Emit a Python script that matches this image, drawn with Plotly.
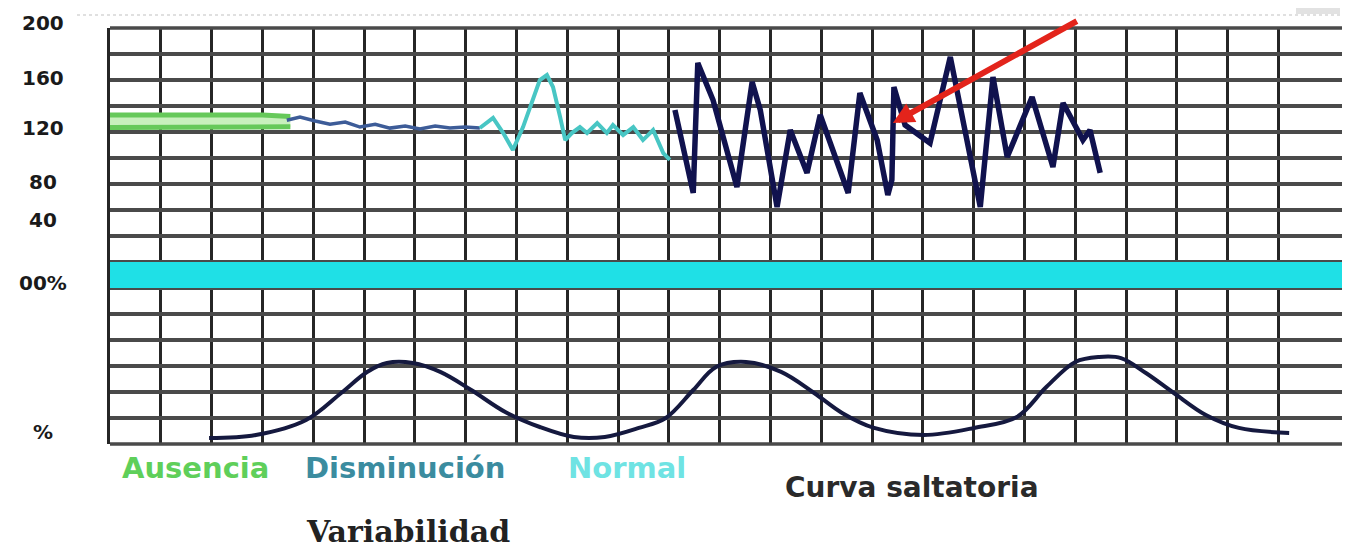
import plotly.graph_objects as go

# ---------------- data ----------------
# x: chart columns (one grid column per unit); y: fetal heart rate (bpm)
green_x = [0.0, 1.0, 2.0, 3.0, 3.55]
green_hi = [133, 133, 133, 133, 132]
green_lo = [123.5, 123.5, 123.5, 123.5, 124]

blue_x = [3.48, 3.74, 4.04, 4.33, 4.63, 4.92, 5.22, 5.51, 5.81, 6.10, 6.40, 6.69, 6.99, 7.28]
blue_y = [129, 131.5, 128.5, 126, 127.7, 123.8, 126, 123, 124.6, 122.3, 124.6, 123, 123.8, 123]

teal_x = [7.28, 7.54, 7.74, 7.93, 8.13, 8.33, 8.46, 8.60, 8.72, 8.86, 8.96, 9.09, 9.25, 9.39,
          9.59, 9.78, 9.90, 10.10, 10.30, 10.49, 10.69, 10.89, 11.02]
teal_y = [123.1, 130.8, 119.2, 106.2, 123.8, 144.6, 160.0, 163.8, 154.6, 131.5, 113.8, 119.2,
          123.8, 119.2, 126.9, 119.2, 125.4, 117.7, 123.8, 113.8, 121.5, 103.8, 98.5]

navy_x = [11.12, 11.48, 11.57, 11.87, 12.34, 12.64, 12.80, 13.13, 13.39, 13.72, 13.98, 14.53,
          14.76, 15.10, 15.31, 15.39, 15.43, 15.65, 16.14, 16.54, 17.13, 17.38, 17.66, 18.15,
          18.56, 18.76, 19.15, 19.29, 19.49]
navy_y = [136.9, 73.1, 173.1, 144.6, 77.7, 158.5, 136.9, 62.3, 121.5, 88.5, 133.1, 73.1,
          150.0, 113.8, 71.5, 83.1, 154.6, 125.4, 111.5, 177.7, 62.3, 162.3, 100.8, 146.9,
          93.1, 142.3, 113.8, 121.5, 88.5]

# uterine activity (%)
toco_x = [1.95, 2.87, 3.86, 4.55, 5.06, 5.45, 5.96, 6.50, 7.11, 7.78, 8.46, 9.13, 9.74, 10.41,
          10.94, 11.48, 11.93, 12.52, 13.21, 13.86, 14.41, 15.04, 16.02, 17.01, 17.85, 18.43,
          19.0, 19.47, 19.90, 20.39, 20.94, 21.57, 22.22, 23.21]
toco_y = [3.8, 5.8, 15.4, 32.7, 46.2, 51.9, 51.9, 46.2, 34.6, 20.5, 10.9, 4.5, 4.5, 10.3,
          16.7, 34.6, 49.4, 52.6, 46.2, 32.7, 19.9, 10.3, 5.8, 10.3, 17.3, 36.5, 52.6, 55.8,
          55.1, 45.5, 32.7, 18.6, 10.3, 7.1]

tick_labels = ["200", "160", "120", "80", "40", "00%", "%"]
tick_pos = [203.8, 161.5, 123.0, 81.5, 52.3, 4.0, -110.8]

column_lines = list(range(0, 24))

arrow_tail = (19.06, 206.0)
arrow_head = (15.41, 127.0)

legend_labels = ["Ausencia", "Disminución", "Normal"]
legend_colors = ["#5fcf5a", "#3b8c9f", "#6fe3e3"]
subtitle = "Curva saltatoria"
title_text = "Variabilidad"

# ---------------- layout geometry ----------------
OFF = 8                       # page body margin
W, H = 1344, 541
ML, MR, MT, MB = 102, 10, 20, 105
PW, PH = W - ML - MR, H - MT - MB
Y_MIN, Y_MAX = -120, 200


def px_x(p):
    return (p - OFF - ML) / PW


def px_y(p):
    return (H - MB - (p - OFF)) / PH


def bpm_paper(v):
    return (v - Y_MIN) / (Y_MAX - Y_MIN)


fig = go.Figure()

# green (absent variability): double line with light fill
fig.add_trace(go.Scatter(x=green_x, y=green_lo, mode="lines",
                         line=dict(color="#66c95a", width=5), hoverinfo="skip"))
fig.add_trace(go.Scatter(x=green_x, y=green_hi, mode="lines", fill="tonexty",
                         fillcolor="#c8f0bd",
                         line=dict(color="#66c95a", width=5), hoverinfo="skip"))
fig.add_trace(go.Scatter(x=blue_x, y=blue_y, mode="lines",
                         line=dict(color="#3d5c98", width=3.5), hoverinfo="skip"))
fig.add_trace(go.Scatter(x=teal_x, y=teal_y, mode="lines",
                         line=dict(color="#48c6c4", width=4), hoverinfo="skip"))
fig.add_trace(go.Scatter(x=navy_x, y=navy_y, mode="lines",
                         line=dict(color="#10124e", width=5.5), hoverinfo="skip"))
fig.add_trace(go.Scatter(x=toco_x, y=toco_y, mode="lines", yaxis="y2",
                         line=dict(color="#15193f", width=4, shape="spline"),
                         hoverinfo="skip"))

annotations = []
for t, p in zip(tick_labels, tick_pos):
    annotations.append(dict(x=px_x(43), xref="paper", y=bpm_paper(p), yref="paper",
                            text="<b>%s</b>" % t, showarrow=False,
                            xanchor="center", yanchor="middle",
                            font=dict(family="DejaVu Sans", size=20, color="#1a1a1a")))

legend_centers = [195, 405, 627]
for t, c, cx in zip(legend_labels, legend_colors, legend_centers):
    annotations.append(dict(x=px_x(cx), xref="paper", y=px_y(468), yref="paper",
                            text="<b>%s</b>" % t, showarrow=False,
                            xanchor="center", yanchor="middle",
                            font=dict(family="DejaVu Sans", size=29, color=c)))
annotations.append(dict(x=px_x(912), xref="paper", y=px_y(487), yref="paper",
                        text="<b>%s</b>" % subtitle, showarrow=False,
                        xanchor="center", yanchor="middle",
                        font=dict(family="DejaVu Sans", size=28, color="#2a2a2a")))
annotations.append(dict(x=px_x(408), xref="paper", y=px_y(531), yref="paper",
                        text="<b>%s</b>" % title_text, showarrow=False,
                        xanchor="center", yanchor="middle",
                        font=dict(family="DejaVu Serif", size=30, color="#222222")))
annotations.append(dict(x=arrow_head[0], y=arrow_head[1], xref="x", yref="y",
                        ax=arrow_tail[0], ay=arrow_tail[1], axref="x", ayref="y",
                        text="", showarrow=True, arrowhead=2, arrowsize=0.7,
                        arrowwidth=6, arrowcolor="#e3241b"))

shapes = [
    # cyan band (100% line)
    dict(type="rect", xref="paper", yref="y", x0=0, x1=1, y0=0, y1=20,
         fillcolor="#1fe0e6", line=dict(width=0), layer="above"),
    # faint top rule
    dict(type="line", xref="paper", yref="paper", x0=px_x(77), x1=px_x(1340),
         y0=px_y(15), y1=px_y(15), line=dict(color="#d6d6d6", width=1.5, dash="dot")),
    dict(type="rect", xref="paper", yref="paper", x0=px_x(1296), x1=px_x(1340),
         y0=px_y(14), y1=px_y(6), fillcolor="#e2e2e2", line=dict(width=0)),
    # top and bottom rules of the grid (horizontal only)
    dict(type="line", xref="paper", yref="paper", x0=0, x1=1, y0=1, y1=1,
         line=dict(color="#4a4a4a", width=3.5)),
    dict(type="line", xref="paper", yref="paper", x0=0, x1=1, y0=0, y1=0,
         line=dict(color="#4a4a4a", width=3.5)),
]

fig.update_layout(
    width=W, height=H,
    margin=dict(l=ML, r=MR, t=MT, b=MB),
    paper_bgcolor="white", plot_bgcolor="white",
    showlegend=False,
    xaxis=dict(range=[0, 24.25], tickmode="array", tickvals=column_lines, showgrid=True,
               gridcolor="#262626", gridwidth=3, showticklabels=False, ticks="",
               zeroline=False, showline=False),
    yaxis=dict(range=[Y_MIN, Y_MAX], tick0=200, dtick=20, showgrid=True,
               gridcolor="#4a4a4a", gridwidth=3.5, showticklabels=False, ticks="",
               zeroline=False, showline=True, linecolor="#262626", linewidth=3),
    yaxis2=dict(range=[0, 266.67], overlaying="y", visible=False),
    annotations=annotations,
    shapes=shapes,
)

fig.write_html("out.html")
